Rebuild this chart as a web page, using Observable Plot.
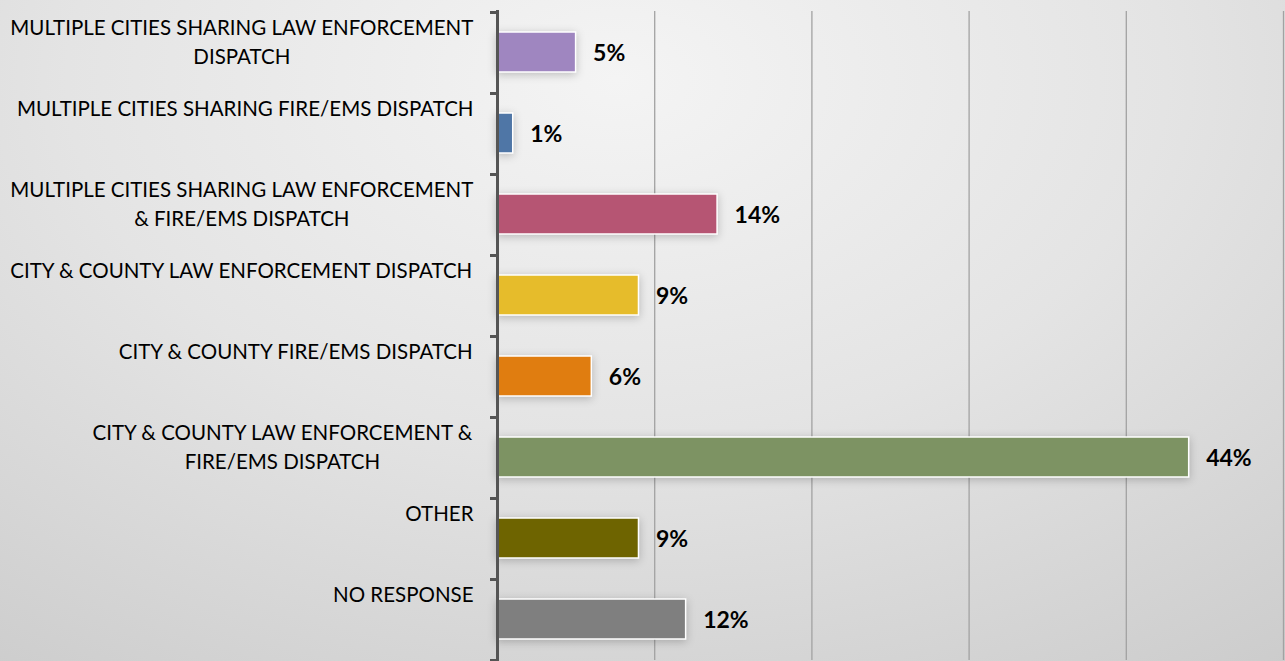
<!DOCTYPE html>
<html><head><meta charset="utf-8">
<script src="https://cdn.jsdelivr.net/npm/d3@7"></script>
<script src="https://cdn.jsdelivr.net/npm/@observablehq/plot@0.6"></script>
<style>
html,body{margin:0;padding:0;}
body{width:1285px;height:661px;overflow:hidden;
background:radial-gradient(ellipse 95% 120% at 48% 12%, #f4f4f4 0%, #e4e4e4 45%, #c8c8c8 100%);}
#chart svg{display:block;}
</style></head><body><div id="chart"></div>
<script>
const categories = [
  "MULTIPLE CITIES SHARING LAW ENFORCEMENT DISPATCH",
  "MULTIPLE CITIES SHARING FIRE/EMS DISPATCH",
  "MULTIPLE CITIES SHARING LAW ENFORCEMENT & FIRE/EMS DISPATCH",
  "CITY & COUNTY LAW ENFORCEMENT DISPATCH",
  "CITY & COUNTY FIRE/EMS DISPATCH",
  "CITY & COUNTY LAW ENFORCEMENT & FIRE/EMS DISPATCH",
  "OTHER",
  "NO RESPONSE"
];
const labelLines = [
  "MULTIPLE CITIES SHARING LAW ENFORCEMENT\nDISPATCH",
  "MULTIPLE CITIES SHARING FIRE/EMS DISPATCH",
  "MULTIPLE CITIES SHARING LAW ENFORCEMENT\n& FIRE/EMS DISPATCH",
  "CITY & COUNTY LAW ENFORCEMENT DISPATCH",
  "CITY & COUNTY FIRE/EMS DISPATCH",
  "CITY & COUNTY LAW ENFORCEMENT &\nFIRE/EMS DISPATCH",
  "OTHER",
  "NO RESPONSE"
];
const values = [5, 1, 14, 9, 6, 44, 9, 12];
const colors = ["#9f86c0", "#4f76a6", "#b65573", "#e6bc2b", "#e07d10", "#7d9363", "#6e6400", "#7f7f7f"];
const gridTicks = [10, 20, 30, 40, 50];

const data = categories.map((c, i) => ({category: c, label: labelLines[i], value: values[i]}));

const FONT = "Lato, 'Open Sans', sans-serif";
const LABEL_SIZE = 20.5;
const ctx = document.createElement("canvas").getContext("2d");
ctx.font = `${LABEL_SIZE}px Lato`;

const labelMarks = data.map(d => {
  const w = Math.max(...d.label.split("\n").map(s => ctx.measureText(s).width));
  return Plot.text([d], {
    frameAnchor: "left", y: "category", text: "label",
    textAnchor: "middle", lineAnchor: "top", lineHeight: 1.42,
    dx: -(24 + w / 2), dy: -38.5, fontSize: LABEL_SIZE, fill: "#000"
  });
});

const plot = Plot.plot({
  width: 1285, height: 661,
  marginLeft: 497, marginRight: 2, marginTop: 12, marginBottom: 1,
  style: {background: "transparent", fontFamily: FONT, overflow: "visible"},
  x: {domain: [0, 50], axis: null},
  y: {domain: categories, axis: null, padding: 0},
  color: {domain: categories, range: colors},
  marks: [
    Plot.ruleX(gridTicks, {stroke: "#a2a2a2", strokeWidth: 1.3, insetTop: -1}),
    Plot.barX(data, {x: "value", y: "category", fill: "category", stroke: "#fff", strokeWidth: 1.5, insetTop: 20, insetBottom: 21}),
    Plot.ruleX([0], {stroke: "#555", strokeWidth: 3, insetTop: -2, insetBottom: -1}),
    Plot.ruleY(categories, {x1: 0, x2: 0, insetLeft: -7, dy: -40.5, stroke: "#555", strokeWidth: 3}),
    Plot.ruleY([categories[categories.length - 1]], {x1: 0, x2: 0, insetLeft: -7, dy: 40.5, stroke: "#555", strokeWidth: 3}),
    Plot.text(data, {x: "value", y: "category", text: d => d.value + "%", textAnchor: "start", dx: 17, dy: 1, fontWeight: "bold", fontSize: 23, fill: "#000"}),
    ...labelMarks
  ]
});
document.getElementById("chart").append(plot);
plot.querySelectorAll('g[aria-label="bar"]').forEach(g => g.style.filter = "drop-shadow(0px 2px 4px rgba(0,0,0,0.22))");
</script>
</body></html>
